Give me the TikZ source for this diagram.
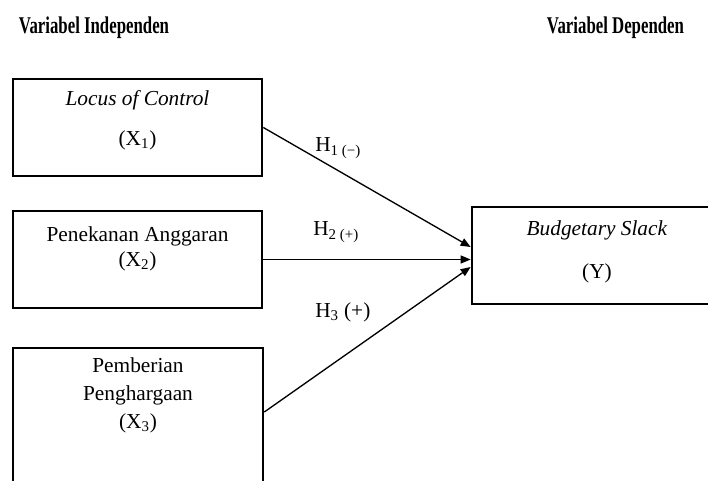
\documentclass[tikz,border=0pt]{standalone}
\usepackage{fontspec}
\setmainfont{Liberation Serif}
\newfontfamily\headfont[FakeStretch=0.7]{Liberation Serif}
\usetikzlibrary{calc,arrows.meta,positioning}

\begin{document}
\begin{tikzpicture}[x=0.75pt,y=0.75pt,
  varbox/.style={draw, line width=2pt, minimum width=186.75pt, minimum height=72.75pt},
  boxtext/.style={align=center, inner sep=0pt, font=\fontsize{16}{19.2}\selectfont},
  heading/.style={inner sep=0pt, font=\headfont\fontsize{18}{21}\selectfont\bfseries},
  hyp/.style={anchor=west, inner sep=0pt, font=\fontsize{16}{19.2}\selectfont},
  link/.style={line width=1pt, -{Triangle[length=7.5pt,width=6pt]}}]
\useasboundingbox (0,0) rectangle (708,481);
\clip (0,0) rectangle (708,481);

% headings
\node[heading] (indep) at (94,453) {Variabel Independen};
\node[heading] (dep) at (615.5,453) {Variabel Dependen};

% independent variables
\node[varbox] (x1) at (137.5,353.5) {};
\node[boxtext] (x1t) at (137.5,361) {\textit{Locus of Control}\\[10.8pt](X\textsubscript{1})};

\node[varbox] (x2) at (137.5,221.5) {};
\node[boxtext] (x2t) at (137.5,232) {Penekanan Anggaran\\[-1pt](X\textsubscript{2})};

\node[varbox, minimum width=187.5pt, minimum height=103.5pt] (x3) at (138,64) {};
\node[boxtext] (x3t) at (138,86) {Pemberian\\[1.8pt]Penghargaan\\[1.8pt](X\textsubscript{3})};

% dependent variable
\node[varbox, minimum width=182.25pt] (yb) at (593.5,225.5) {};
\node[boxtext] (ybt) at (597,229.5) {\textit{Budgetary Slack}\\[13pt](Y)};

% hypotheses
\draw[link] (x1.east) -- ($(yb.west)+(0,8.5)$);
\draw[link] (x2.east) -- (x2.east -| yb.west);
\draw[link] ($(x3.east)+(0,5)$) -- ($(yb.west)+(0,-11.5)$);

\node[hyp] (h1) at (315,333) {H\textsubscript{1 (−)}};
\node[hyp] (h2) at (313,249) {H\textsubscript{2 (+)}};
\node[hyp] (h3) at (315,169) {H\textsubscript{3} (+)};
\end{tikzpicture}
\end{document}
